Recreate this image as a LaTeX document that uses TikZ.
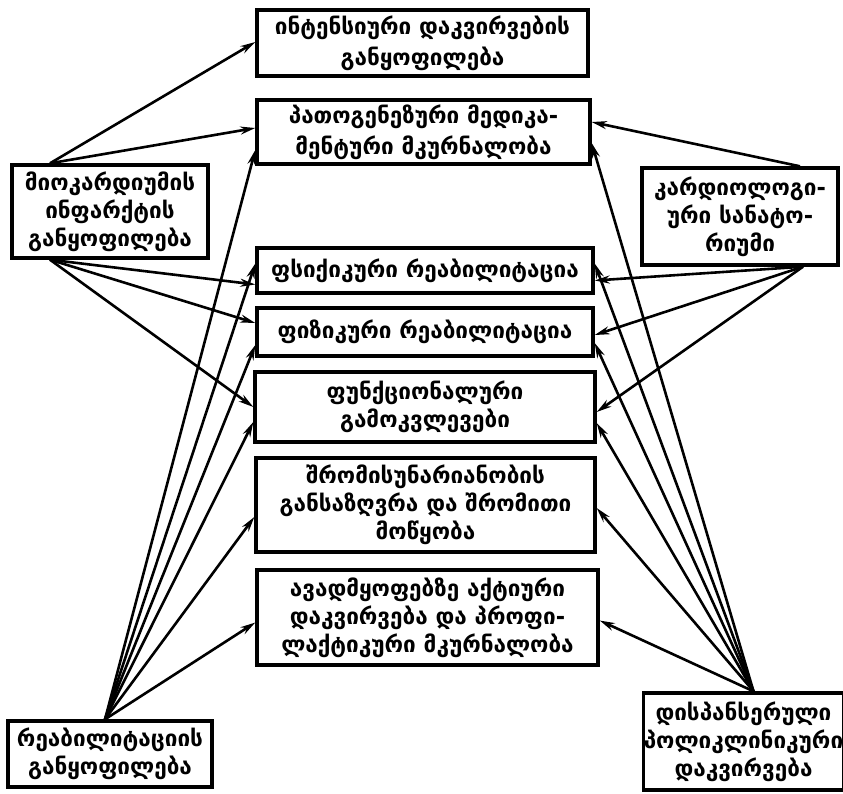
\documentclass[tikz,border=0pt]{standalone}
\usepackage{fontspec}
\setmainfont{DejaVu Sans}
\usetikzlibrary{arrows.meta}
\begin{document}
\begin{tikzpicture}[x=1pt,y=-1pt,
  box/.style={draw,line width=3.4pt,align=center,inner sep=0pt,
    font=\fontsize{22.5}{28}\selectfont\bfseries},
  arr/.style={line width=2.6pt,-{Stealth[length=15pt,width=8pt]}}]
\useasboundingbox (0,0) rectangle (843,793);
% centre boxes
\node[box,minimum width=331pt,minimum height=66pt] (b1) at (422.5,43) {ინტენსიური დაკვირვების\\[3pt]განყოფილება};
\node[box,minimum width=333pt,minimum height=64pt] (b2) at (423.5,132) {პათოგენეზური მედიკა-\\[3pt]მენტური მკურნალობა};
\node[box,minimum width=336pt,minimum height=45pt] (b3) at (425,270.5) {ფსიქიკური რეაბილიტაცია};
\node[box,minimum width=336pt,minimum height=48pt] (b4) at (425,332) {ფიზიკური რეაბილიტაცია};
\node[box,minimum width=340pt,minimum height=70pt] (b5) at (425,407) {ფუნქციონალური\\გამოკვლევები};
\node[box,minimum width=339pt,minimum height=94pt] (b6) at (425.5,505) {შრომისუნარიანობის\\განსაზღვრა და შრომითი\\მოწყობა};
\node[box,minimum width=341pt,minimum height=95pt] (b7) at (427.5,617.5) {ავადმყოფებზე აქტიური\\დაკვირვება და პროფი-\\ლაქტიკური მკურნალობა};
% side boxes
\node[box,minimum width=196pt,minimum height=93pt] (ml) at (110,211.5) {მიოკარდიუმის\\ინფარქტის\\განყოფილება};
\node[box,minimum width=196pt,minimum height=97pt] (mr) at (740,216.5) {კარდიოლოგი-\\ური სანატო-\\რიუმი};
\node[box,minimum width=204pt,minimum height=66pt] (bl) at (110,754) {რეაბილიტაციის\\განყოფილება};
\node[box,minimum width=193pt,minimum height=97pt] (br) at (743.5,741.5) {დისპანსერული\\პოლიკლინიკური\\დაკვირვება};
% source points
\coordinate (mlT) at ([xshift=-60pt]ml.north);
\coordinate (mlB) at ([xshift=-60pt]ml.south);
\coordinate (mrT) at ([xshift=60pt]mr.north);
\coordinate (mrB) at ([xshift=63pt]mr.south);
\coordinate (blT) at ([xshift=-5pt]bl.north);
\coordinate (brT) at ([xshift=10pt]br.north);
% left box arrows
\draw[arr] (mlT) -- ([yshift=1pt]b1.west);
\draw[arr] (mlT) -- ([yshift=4pt]b2.west);
\draw[arr] (mlB) -- ([yshift=-14pt]b3.west);
\draw[arr] (mlB) -- ([yshift=9pt]b4.west);
\draw[arr] (mlB) -- ([yshift=0pt]b5.west);
% bottom-left arrows
\draw[arr] (blT) -- ([yshift=-18pt]b2.west);
\draw[arr] (blT) -- ([yshift=7pt]b3.west);
\draw[arr] (blT) -- ([yshift=-13pt]b4.west);
\draw[arr] (blT) -- ([yshift=-15pt]b5.west);
\draw[arr] (blT) -- ([yshift=-12pt]b6.west);
\draw[arr] (blT) -- ([yshift=-5pt]b7.west);
% right box arrows
\draw[arr] (mrT) -- ([yshift=10pt]b2.east);
\draw[arr] (mrB) -- ([yshift=-10pt]b3.east);
\draw[arr] (mrB) -- ([yshift=-3pt]b4.east);
\draw[arr] (mrB) -- ([yshift=-5pt]b5.east);
% bottom-right arrows
\draw[arr] (brT) -- ([yshift=-11pt]b2.east);
\draw[arr] (brT) -- ([yshift=7pt]b3.east);
\draw[arr] (brT) -- ([yshift=-11pt]b4.east);
\draw[arr] (brT) -- ([yshift=-16pt]b5.east);
\draw[arr] (brT) -- ([yshift=-3pt]b6.east);
\draw[arr] (brT) -- ([yshift=-3pt]b7.east);
\end{tikzpicture}
\end{document}
